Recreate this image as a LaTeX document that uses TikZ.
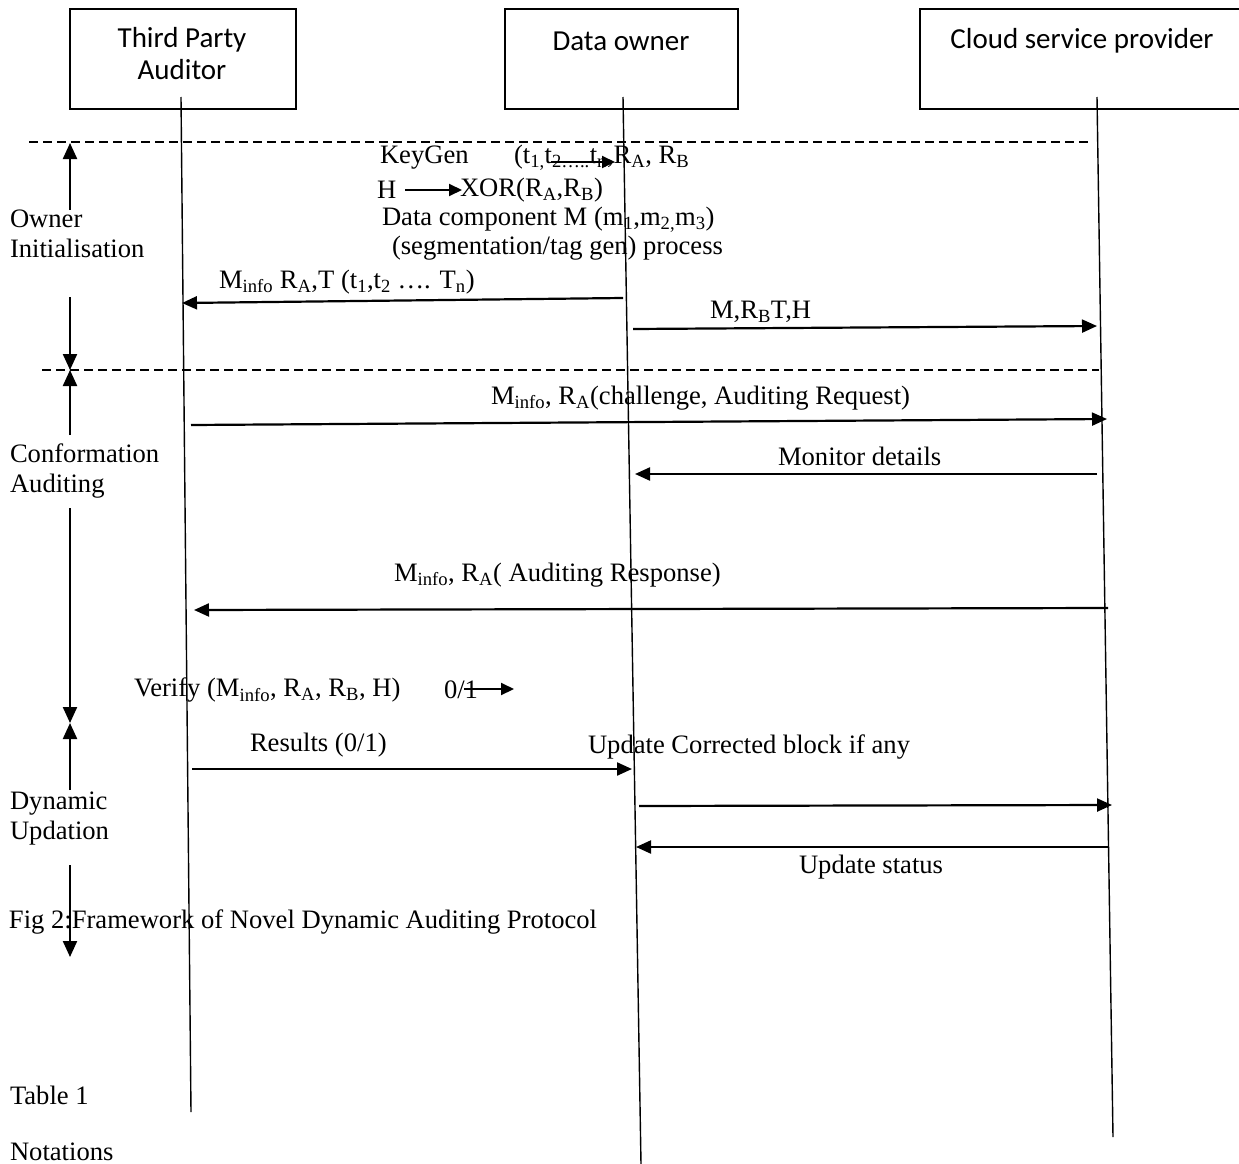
\documentclass[tikz,border=0pt]{standalone}
\usepackage{fontspec}
\setmainfont{Liberation Serif}
\newfontfamily\calib{Carlito}
\usetikzlibrary{arrows.meta}
\begin{document}
\begin{tikzpicture}[x=1pt,y=-1pt,
  every node/.style={inner sep=0pt, outer sep=0pt},
  txt/.style={anchor=west, font=\fontsize{26.6}{30}\selectfont, align=left},
  actorbox/.style={draw, line width=1.3pt, minimum height=100pt},
  actortext/.style={font=\calib\fontsize{29}{32}\selectfont, align=center},
  life/.style={line width=1.4pt},
  msg/.style={line width=2.2pt, -{Triangle[length=15pt,width=13pt]}},
  smallarrow/.style={line width=2pt, -{Triangle[length=13pt,width=12pt]}},
  phase/.style={line width=2.2pt, -{Triangle[length=16pt,width=14pt]}},
  sepline/.style={line width=1.3pt, dash pattern=on 9pt off 5pt}]
\useasboundingbox (0,0) rectangle (1239,1164);

% actor boxes
\node[actorbox, minimum width=226pt] (tpa) at (183,59) {};
\node[actortext] (tpaT) at (182,54) {Third Party\\Auditor};
\node[actorbox, minimum width=233pt] (do) at (621.5,59) {};
\node[actortext] (doT) at (621,41) {Data owner};
\node[actorbox, minimum width=323pt] (csp) at (1081.5,59) {};
\node[actortext] (cspT) at (1082,41) {Cloud service provider};

% lifelines
\coordinate (tpaTop) at (181,97);
\coordinate (tpaBot) at (191,1112);
\coordinate (doTop) at (623,97);
\coordinate (doBot) at (641,1164);
\coordinate (cspTop) at (1097,97);
\coordinate (cspBot) at (1113,1137);
\draw[life] (tpaTop) -- (tpaBot);
\draw[life] (doTop) -- (doBot);
\draw[life] (cspTop) -- (cspBot);

% separators
\coordinate (s1a) at (29,142); \coordinate (s1b) at (1088,142);
\coordinate (s2a) at (42,370); \coordinate (s2b) at (1099,370);
\draw[sepline] (s1a) -- (s1b);
\draw[sepline] (s2a) -- (s2b);

% phase labels
\node[txt] (ph1) at (10,234) {Owner\\Initialisation};
\node[txt] (ph2) at (10,471) {Conformation\\Auditing};
\node[txt] (ph3) at (10,819) {Dynamic\\Updation};

% phase arrows
\coordinate (p1a) at (70,210); \coordinate (p1b) at (70,143);
\coordinate (p2a) at (70,297); \coordinate (p2b) at (70,370);
\coordinate (p3a) at (70,435); \coordinate (p3b) at (70,370);
\coordinate (p4a) at (70,508); \coordinate (p4b) at (70,723);
\coordinate (p5a) at (70,790); \coordinate (p5b) at (70,723);
\coordinate (p6a) at (70,865); \coordinate (p6b) at (70,957);
\draw[phase] (p1a) -- (p1b);
\draw[phase] (p2a) -- (p2b);
\draw[phase] (p3a) -- (p3b);
\draw[phase] (p4a) -- (p4b);
\draw[phase] (p5a) -- (p5b);
\draw[phase] (p6a) -- (p6b);

% owner initialisation texts
\node[txt] (kg) at (380,158) {KeyGen};
\node[txt] (kgt) at (514,158) {(t\textsubscript{1,}t\textsubscript{2…..}t\textsubscript{n},R\textsubscript{A}, R\textsubscript{B}};
\coordinate (kgA) at (551,162); \coordinate (kgB) at (615,162);
\draw[smallarrow] (kgA) -- (kgB);
\node[txt] (hh) at (377,190) {H};
\coordinate (hA) at (405,190); \coordinate (hB) at (462,190);
\draw[smallarrow] (hA) -- (hB);
\node[txt] (xor) at (460,190) {XOR(R\textsubscript{A},R\textsubscript{B})};
\node[txt] (dc) at (382,220) {Data component M (m\textsubscript{1},m\textsubscript{2,}m\textsubscript{3})};
\node[txt] (seg) at (392,248) {(segmentation/tag gen) process};

% messages
\coordinate (m1a) at (623,298); \coordinate (m1b) at (182,303);
\draw[msg] (m1a) -- (m1b);
\node[txt] (l1) at (219,282) {M\textsubscript{info} R\textsubscript{A},T (t\textsubscript{1},t\textsubscript{2} …. T\textsubscript{n})};

\coordinate (m2a) at (633,329); \coordinate (m2b) at (1097,326);
\draw[msg] (m2a) -- (m2b);
\node[txt] (l2) at (710,312) {M,R\textsubscript{B}T,H};

\coordinate (m3a) at (191,425); \coordinate (m3b) at (1107,419);
\draw[msg] (m3a) -- (m3b);
\node[txt] (l3) at (491,398) {M\textsubscript{info}, R\textsubscript{A}(challenge, Auditing Request)};

\coordinate (m4a) at (1097,474); \coordinate (m4b) at (635,474);
\draw[msg] (m4a) -- (m4b);
\node[txt] (l4) at (778,456) {Monitor details};

\coordinate (m5a) at (1108,608); \coordinate (m5b) at (194,610);
\draw[msg] (m5a) -- (m5b);
\node[txt] (l5) at (394,575) {M\textsubscript{info}, R\textsubscript{A}( Auditing Response)};

\node[txt] (vf) at (134,690) {Verify (M\textsubscript{info}, R\textsubscript{A}, R\textsubscript{B}, H)};
\node[txt] (vr) at (444,690) {0/1};
\coordinate (vA) at (464,689); \coordinate (vB) at (514,689);
\draw[smallarrow] (vA) -- (vB);

\coordinate (m6a) at (192,769); \coordinate (m6b) at (632,769);
\draw[msg] (m6a) -- (m6b);
\node[txt] (l6) at (250,745) {Results (0/1)};
\node[txt] (l6b) at (588,747) {Update Corrected block if any};

\coordinate (m7a) at (639,806); \coordinate (m7b) at (1112,805);
\draw[msg] (m7a) -- (m7b);

\coordinate (m8a) at (1108,847); \coordinate (m8b) at (636,847);
\draw[msg] (m8a) -- (m8b);
\node[txt] (l8) at (799,867) {Update status};

% captions
\node[txt] (cap) at (9,922) {Fig 2:Framework of Novel Dynamic Auditing Protocol};
\node[txt] (tab) at (10,1095) {Table 1};
\node[txt] (nota) at (10,1152) {Notations};
\end{tikzpicture}
\end{document}
